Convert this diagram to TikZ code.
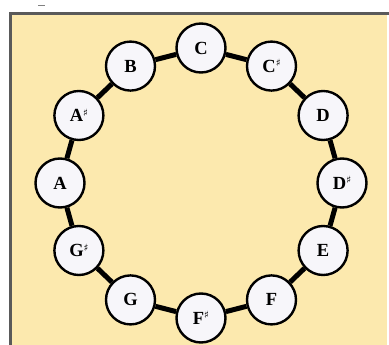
\documentclass[tikz,border=0pt]{standalone}
\usepackage{fontspec}
\setmainfont{Liberation Serif}
\newfontfamily\symfont{DejaVu Serif}
\definecolor{bgyellow}{HTML}{FCE9AE}
\definecolor{notefill}{HTML}{F7F6FA}
\definecolor{framegray}{HTML}{5A5A5A}
\newcommand{\shp}{\raisebox{0.3em}{\symfont\fontsize{10}{10}\selectfont\bfseries ♯}}
\tikzset{
  note/.style={circle,draw=black,line width=2.4pt,fill=notefill,minimum size=49pt,inner sep=0pt,
    font=\bfseries\fontsize{18.5}{18.5}\selectfont},
  link/.style={line width=5pt,black},
  framestroke/.style={line width=3pt,framegray}
}
\begin{document}
\begin{tikzpicture}[x=1pt,y=-1pt]
\useasboundingbox (0,0) rectangle (389,345);
\fill[bgyellow] (11,15) rectangle (387,345);
\draw[framestroke] (9,14) -- (389,14);
\draw[framestroke] (10,14) -- (10,345);
\draw[gray,line width=1pt] (38,6) -- (45,6);
\foreach \n/\a/\t in {C/90/C, Cs/60/C\shp, D/30/D, Ds/0/D\shp, E/-30/E, F/-60/F,
                      Fs/-90/F\shp, G/-120/G, Gs/-150/G\shp, A/180/A, As/150/A\shp, B/120/B}
  \node[note] (\n) at ({201+141*cos(\a)},{183-135*sin(\a)}) {\t};
\foreach \p/\q in {C/Cs, Cs/D, D/Ds, Ds/E, E/F, F/Fs, Fs/G, G/Gs, Gs/A, A/As, As/B, B/C}
  \draw[link] (\p) -- (\q);
\end{tikzpicture}
\end{document}
